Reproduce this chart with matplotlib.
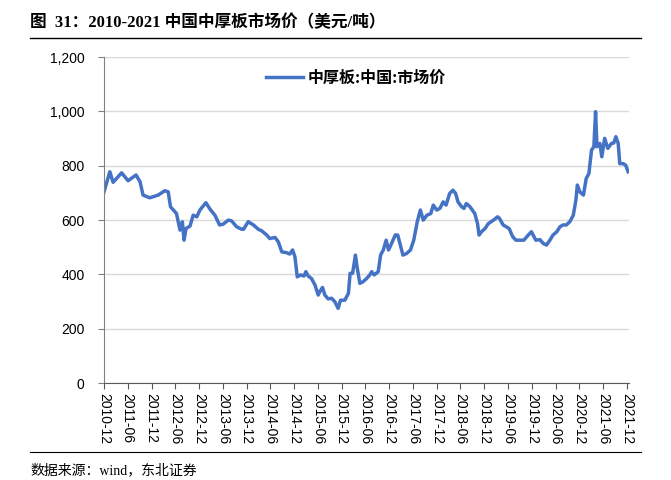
import matplotlib
matplotlib.use("Agg")
import matplotlib.pyplot as plt
import matplotlib.dates as mdates
from matplotlib.lines import Line2D
from matplotlib.ticker import FuncFormatter
import pandas as pd

# 中厚板:中国:市场价 (美元/吨)
dates = [
    "2010-12-01", "2011-01-15", "2011-02-09", "2011-04-15", "2011-06-04", "2011-08-04",
    "2011-09-04", "2011-09-27", "2011-11-18", "2012-01-21", "2012-03-12", "2012-04-07",
    "2012-04-25", "2012-06-10", "2012-07-07", "2012-07-25", "2012-08-07", "2012-08-22",
    "2012-09-22", "2012-10-16", "2012-11-13", "2012-12-07", "2013-01-22", "2013-02-23",
    "2013-04-01", "2013-05-07", "2013-06-04", "2013-07-13", "2013-08-07", "2013-09-16",
    "2013-10-25", "2013-11-07", "2013-12-13", "2014-01-22", "2014-03-01", "2014-03-25",
    "2014-05-04", "2014-05-28", "2014-07-07", "2014-08-01", "2014-08-28", "2014-10-04",
    "2014-10-28", "2014-11-19", "2014-12-07", "2014-12-25", "2015-01-19", "2015-02-15",
    "2015-03-01", "2015-03-19", "2015-04-13", "2015-05-10", "2015-06-04", "2015-06-16",
    "2015-07-07", "2015-07-25", "2015-08-19", "2015-09-16", "2015-10-10", "2015-11-04",
    "2015-11-22", "2015-12-25", "2016-01-22", "2016-02-04", "2016-02-23", "2016-03-16",
    "2016-03-28", "2016-04-19", "2016-05-13", "2016-06-10", "2016-07-04", "2016-07-19",
    "2016-08-07", "2016-09-07", "2016-09-25", "2016-10-16", "2016-11-07", "2016-11-25",
    "2016-12-13", "2017-01-16", "2017-02-04", "2017-02-21", "2017-03-16", "2017-04-13",
    "2017-05-13", "2017-06-07", "2017-07-04", "2017-07-28", "2017-08-19", "2017-09-16",
    "2017-10-16", "2017-11-04", "2017-12-01", "2017-12-25", "2018-01-19", "2018-02-10",
    "2018-03-10", "2018-04-04", "2018-04-25", "2018-05-13", "2018-06-10", "2018-06-28",
    "2018-07-16", "2018-08-13", "2018-09-19", "2018-10-10", "2018-10-22", "2018-11-10",
    "2018-12-07", "2019-01-01", "2019-02-10", "2019-03-13", "2019-03-28", "2019-04-25",
    "2019-05-19", "2019-06-10", "2019-07-07", "2019-08-01", "2019-09-01", "2019-10-01",
    "2019-11-04", "2019-11-28", "2020-01-01", "2020-02-01", "2020-02-27", "2020-03-23",
    "2020-04-18", "2020-05-12", "2020-06-10", "2020-07-04", "2020-07-27", "2020-08-23",
    "2020-09-18", "2020-10-15", "2020-11-04", "2020-11-15", "2020-12-04", "2021-01-01",
    "2021-01-22", "2021-02-12", "2021-03-04", "2021-03-22", "2021-04-04", "2021-04-15",
    "2021-05-07", "2021-05-22", "2021-06-13", "2021-07-07", "2021-08-04", "2021-08-22",
    "2021-09-07", "2021-09-25", "2021-10-07", "2021-11-01", "2021-11-22", "2021-12-10",
]
prices = [
    704, 778, 739, 774, 745, 766,
    741, 692, 682, 692, 708, 704,
    649, 624, 563, 594, 526, 569,
    578, 618, 612, 637, 664, 640,
    618, 582, 585, 600, 597, 575,
    566, 566, 594, 582, 566, 561,
    545, 532, 536, 520, 483, 480,
    475, 490, 465, 391, 398, 394,
    410, 394, 385, 361, 324, 336,
    352, 324, 310, 312, 299, 275,
    305, 305, 330, 404, 404, 471,
    428, 367, 373, 385, 398, 410,
    398, 410, 471, 490, 526, 490,
    508, 545, 545, 514, 471, 477,
    490, 526, 594, 637, 600, 618,
    624, 655, 637, 643, 667, 655,
    698, 710, 698, 667, 649, 643,
    661, 649, 624, 587, 545, 557,
    569, 587, 600, 612, 606, 582,
    575, 569, 539, 526, 526, 526,
    545, 557, 526, 528, 514, 508,
    526, 545, 557, 575, 582, 582,
    594, 618, 674, 729, 704, 692,
    753, 772, 858, 870, 999, 870,
    882, 833, 901, 864, 882, 884,
    907, 882, 808, 808, 802, 778,
]

series_name = "中厚板:中国:市场价"
title = "图  31：2010-2021 中国中厚板市场价（美元/吨）"
source = "数据来源：wind，东北证券"
y_ticks = [0, 200, 400, 600, 800, 1000, 1200]

cjk_serif = ["Liberation Serif", "Noto Sans CJK SC"]
cjk_sans = ["Noto Sans CJK SC", "DejaVu Sans"]
latin = "Liberation Sans"

x = pd.to_datetime(dates)
tick_dates = pd.date_range("2010-12-01", "2021-12-01", freq="6MS")

fig = plt.figure(figsize=(6.71, 4.80), dpi=100)
ax = fig.add_axes([0.155, 0.202, 0.783, 0.679])

ax.plot(x, prices, color="#4472C4", linewidth=2.5, solid_joinstyle="round")

ax.set_xlim(pd.Timestamp("2010-12-01"), pd.Timestamp("2021-12-20"))
ax.set_ylim(0, 1200)
ax.set_yticks(y_ticks)
ax.yaxis.set_major_formatter(FuncFormatter(lambda v, p: "{:,.0f}".format(v)))
ax.set_xticks(tick_dates)
ax.xaxis.set_major_formatter(mdates.DateFormatter("%Y-%m"))

ax.grid(axis="y", color="#D9D9D9", linewidth=1.0)
ax.set_axisbelow(True)
for s in ["top", "right"]:
    ax.spines[s].set_visible(False)
ax.spines["left"].set_color("#808080")
ax.spines["bottom"].set_color("#595959")
ax.tick_params(axis="y", length=4, width=0.8, color="#808080", pad=10, labelsize=10)
ax.tick_params(axis="x", length=4, width=0.8, color="#595959", pad=3, labelsize=10)
for lbl in ax.get_yticklabels():
    lbl.set_fontfamily(latin)
for lbl in ax.get_xticklabels():
    lbl.set_fontfamily(latin)
    lbl.set_rotation(-90)
    lbl.set_va("top")
    lbl.set_ha("center")

handle = Line2D([], [], color="#4472C4", linewidth=2.5)
leg = ax.legend([handle], [series_name], loc="upper center", bbox_to_anchor=(0.48, 1.005),
                frameon=False, handlelength=2.3, handletextpad=0.3,
                prop={"family": cjk_sans, "size": 11.5, "weight": "bold"})

fig.text(0.045, 0.953, title, fontsize=12, fontweight="bold", family=cjk_serif,
         ha="left", va="center")
fig.add_artist(Line2D([0.045, 0.955], [0.921, 0.921], color="black", linewidth=1.0))
fig.add_artist(Line2D([0.045, 0.955], [0.058, 0.058], color="black", linewidth=0.8))
fig.text(0.045, 0.021, source, fontsize=10, family=cjk_serif, ha="left", va="center")

fig.savefig("out.png", dpi=100)
